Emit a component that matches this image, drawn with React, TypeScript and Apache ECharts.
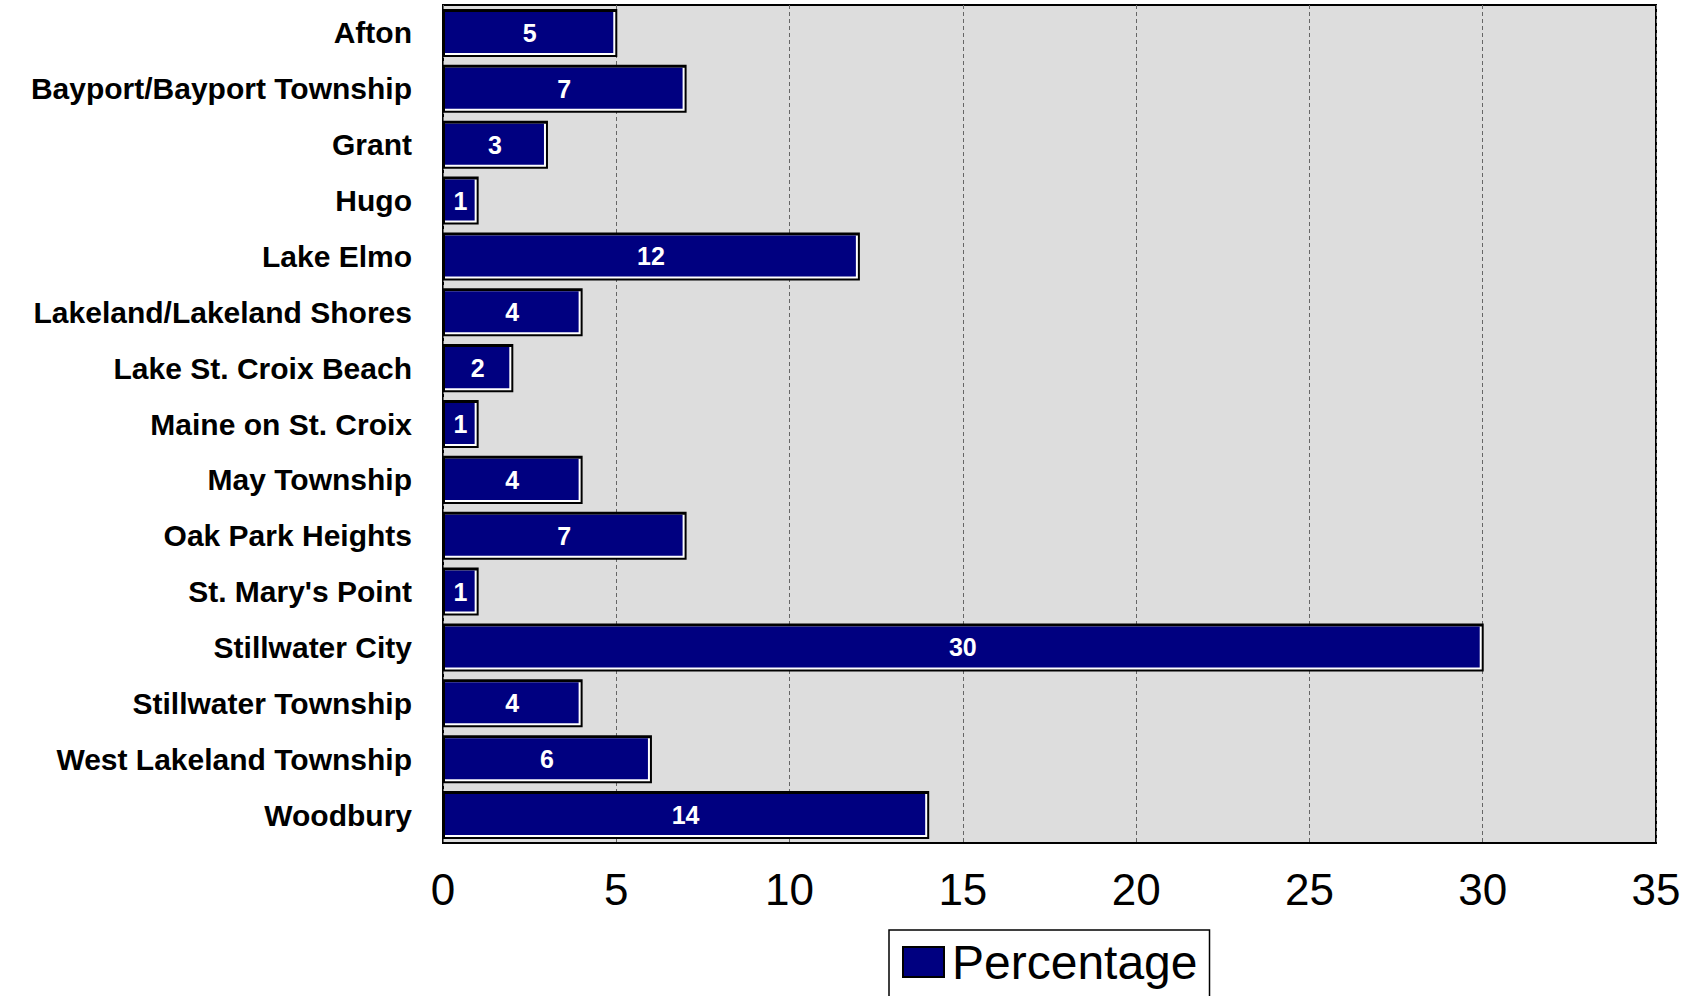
import React, { useEffect, useRef } from "react";
import * as echarts from "echarts";

const categories = [
  "Afton",
  "Bayport/Bayport Township",
  "Grant",
  "Hugo",
  "Lake Elmo",
  "Lakeland/Lakeland Shores",
  "Lake St. Croix Beach",
  "Maine on St. Croix",
  "May Township",
  "Oak Park Heights",
  "St. Mary's Point",
  "Stillwater City",
  "Stillwater Township",
  "West Lakeland Township",
  "Woodbury",
];
const percentages = [5, 7, 3, 1, 12, 4, 2, 1, 4, 7, 1, 30, 4, 6, 14];
const seriesName = "Percentage";
const FONT = '"Liberation Sans", Arial, sans-serif';

export default function App() {
  const ref = useRef<HTMLDivElement>(null);
  useEffect(() => {
    if (!ref.current) return;
    const chart = echarts.init(ref.current, null, { renderer: "svg" });
    const data = percentages.map((v, i) => [v, i]);
    chart.setOption({
      animation: false,
      backgroundColor: "#ffffff",
      grid: {
        left: 443,
        right: 44,
        top: 5,
        bottom: 153,
        show: true,
        backgroundColor: "#DDDDDD",
        borderColor: "#000000",
        borderWidth: 2,
      },
      legend: {
        show: true,
        data: [{ name: seriesName, icon: "rect" }],
        left: 889,
        top: 930,
        orient: "horizontal",
        itemWidth: 41,
        itemHeight: 30,
        padding: [8, 12, 30, 13],
        borderColor: "#000000",
        borderWidth: 1.5,
        itemStyle: { color: "#000080", borderColor: "#000000", borderWidth: 2 },
        textStyle: { fontSize: 48, color: "#000000", fontFamily: FONT, padding: [2, 0, 0, 3] },
      },
      xAxis: {
        type: "value",
        min: 0,
        max: 35,
        interval: 5,
        axisLine: { show: false },
        axisTick: { show: false },
        axisLabel: { fontSize: 44, color: "#000000", fontFamily: FONT, margin: 24 },
        splitLine: {
          show: true,
          lineStyle: { color: "#666666", width: 1, type: [4, 3] },
        },
      },
      yAxis: {
        type: "category",
        data: categories,
        inverse: true,
        axisLine: { show: false },
        axisTick: { show: false },
        splitLine: { show: false },
        axisLabel: {
          fontSize: 30,
          fontWeight: "bold",
          color: "#000000",
          fontFamily: FONT,
          margin: 31,
          padding: [3, 0, 0, 0],
        },
      },
      series: [
        {
          name: seriesName,
          type: "custom",
          itemStyle: { color: "#000080" },
          encode: { x: 0, y: 1 },
          data,
          renderItem: (params: any, api: any) => {
            const v = api.value(0);
            const c = api.value(1);
            const start = api.coord([0, c]);
            const end = api.coord([v, c]);
            const h = api.size([0, 1])[1] * 0.86;
            const x0 = start[0];
            const x1 = end[0];
            const y0 = start[1] - h / 2;
            const w = x1 - x0;
            return {
              type: "group",
              children: [
                { type: "rect", shape: { x: x0, y: y0, width: w + 1, height: h }, style: { fill: "#000000" } },
                { type: "rect", shape: { x: x0 + 2, y: y0 + 3, width: w - 3, height: h - 5 }, style: { fill: "#ffffff" } },
                { type: "rect", shape: { x: x0 + 2, y: y0 + 3, width: w - 5, height: h - 7 }, style: { fill: "#000080" } },
                {
                  type: "text",
                  x: (x0 + x1) / 2,
                  y: start[1],
                  style: {
                    text: String(v),
                    fill: "#ffffff",
                    fontSize: 25,
                    fontWeight: "bold",
                    fontFamily: FONT,
                    align: "center",
                    verticalAlign: "middle",
                  },
                },
              ],
            };
          },
        },
      ],
    });
    return () => chart.dispose();
  }, []);
  return (
    <div
      ref={ref}
      style={{ position: "fixed", left: 0, top: 0, width: 1700, height: 996, background: "#fff" }}
    />
  );
}
